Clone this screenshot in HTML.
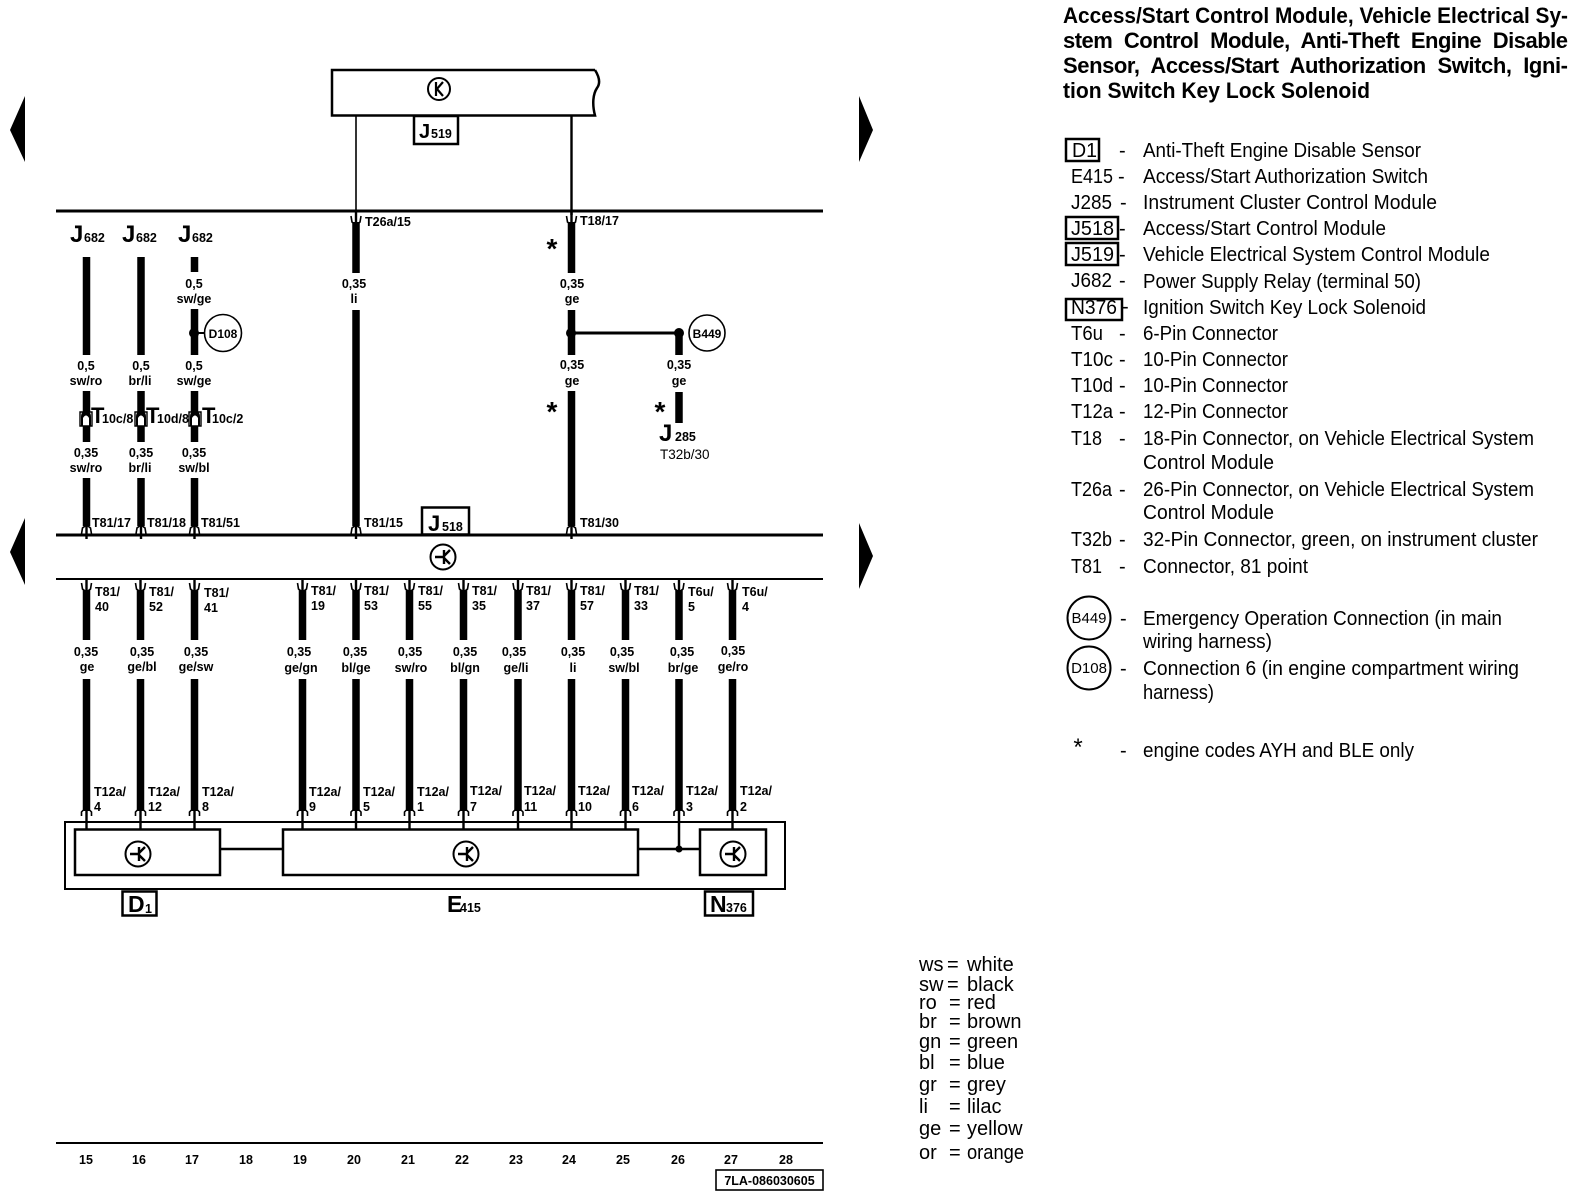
<!DOCTYPE html>
<html><head><meta charset="utf-8"><style>
html,body{margin:0;padding:0;background:#fff}
svg{display:block}
text{font-family:"Liberation Sans",sans-serif;fill:#000}
.b{font-weight:bold;font-size:12.5px}
.c{text-anchor:middle}
.J{font-weight:bold;font-size:26px}
.s{font-weight:bold;font-size:12.5px}
.L{font-size:20px}
.H{font-size:22px;font-weight:bold}
.st{font-size:28px;font-weight:bold}
.n{font-size:12px}
</style></head><body>
<svg width="1584" height="1200" viewBox="0 0 1584 1200" xmlns="http://www.w3.org/2000/svg">
<defs>
<g id="k"><circle r="12.5" fill="#fff" stroke="#000" stroke-width="2"/><path d="M-8,0H1M1,-7V7M1,-1L7,-7M1,1L7,7" fill="none" stroke="#000" stroke-width="2.4"/></g>
<g id="k2"><circle r="11" fill="#fff" stroke="#000" stroke-width="2"/><path d="M-3,-7V7M-3,1L4,-7M-2,0L4,7" fill="none" stroke="#000" stroke-width="2.2"/></g>
<g id="d"><path d="M-5,-5L-4,1L0,4L4,1L5,-5" fill="none" stroke="#000" stroke-width="1.6"/><path d="M0,-10V8" stroke="#000" stroke-width="2.4"/></g>
<g id="u"><path d="M-5,5L-4,-1L0,-4L4,-1L5,5" fill="#000" fill-opacity="0" stroke="#000" stroke-width="1.6"/><path d="M0,-6V10" stroke="#000" stroke-width="2.4"/></g>
<g id="cn"><path d="M-6,-2V12H6V-2Z" fill="#fff" stroke="#000" stroke-width="1.4"/><path d="M-5,12V3Q-5,-3 0,-3Q5,-3 5,3V12H3V4Q0,-1 -3,4V12Z" fill="#000"/></g>
</defs>

<!-- arrows -->
<path d="M25,96V162L10,130Z M25,518V585L10,552Z M859,96V162L873,130Z M859,523V589L873,556Z" fill="#000"/>

<!-- bars -->
<path d="M56,211H823M56,535H823" stroke="#000" stroke-width="3"/>
<path d="M56,579H823" stroke="#000" stroke-width="2"/>
<path d="M56,1143H823" stroke="#000" stroke-width="2"/>

<!-- J519 -->
<path d="M595,70H332V115.5H595C592,104 593,94 597,88C600,84 600,78 595,70" fill="#fff" stroke="#000" stroke-width="2.5"/>
<use href="#k2" x="439" y="89"/>
<path d="M356,115V215" stroke="#000" stroke-width="1.6"/>
<path d="M571.5,115V215" stroke="#000" stroke-width="2.4"/>
<rect x="414" y="116" width="44" height="28" fill="#fff" stroke="#000" stroke-width="2.5"/>
<text x="419" y="138" style="font-size:20px;font-weight:bold">J</text><text class="s" x="431" y="138">519</text>

<!-- top wires -->
<path fill="none" stroke="#000" stroke-width="7.5" d="
M86.5,257V355M86.5,391V442M86.5,478V526
M141,257V355M141,391V442M141,478V526
M194.5,257V272M194.5,309V355M194.5,391V442M194.5,478V526
M356,222V273M356,310V526
M571.5,222V273M571.5,310V355M571.5,391V526
M679,333V355M679,392V423"/>
<path d="M571,333H679" stroke="#000" stroke-width="3"/>
<circle cx="571" cy="333" r="5"/><circle cx="679" cy="333" r="5"/><circle cx="194" cy="333" r="5"/>
<path d="M194,333H206" stroke="#000" stroke-width="2"/>
<circle cx="223" cy="333" r="18.5" fill="#fff" stroke="#000" stroke-width="1.6"/>
<circle cx="707" cy="333" r="18" fill="#fff" stroke="#000" stroke-width="1.6"/>
<text class="b c" x="223" y="338" style="font-size:12px">D108</text>
<text class="b c" x="707" y="338" style="font-size:12px">B449</text>

<use href="#d" x="356" y="221"/><use href="#d" x="571.5" y="221"/>
<use href="#u" x="86.5" y="529"/><use href="#u" x="141" y="529"/><use href="#u" x="194.5" y="529"/><use href="#u" x="356" y="529"/><use href="#u" x="571.5" y="529"/>
<use href="#cn" x="86" y="414"/><use href="#cn" x="141" y="414"/><use href="#cn" x="195" y="414"/>

<text class="J" x="70" y="242" style="font-size:24px">J</text><text class="s" x="84" y="242">682</text>
<text class="J" x="122" y="242" style="font-size:24px">J</text><text class="s" x="136" y="242">682</text>
<text class="J" x="178" y="242" style="font-size:24px">J</text><text class="s" x="192" y="242">682</text>

<text class="b c" x="194" y="288">0,5</text><text class="b c" x="194" y="303">sw/ge</text>
<text class="b c" x="86" y="370">0,5</text><text class="b c" x="86" y="385">sw/ro</text>
<text class="b c" x="141" y="370">0,5</text><text class="b c" x="140" y="385">br/li</text>
<text class="b c" x="194" y="370">0,5</text><text class="b c" x="194" y="385">sw/ge</text>
<text class="b c" x="86" y="457">0,35</text><text class="b c" x="86" y="472">sw/ro</text>
<text class="b c" x="141" y="457">0,35</text><text class="b c" x="140" y="472">br/li</text>
<text class="b c" x="194" y="457">0,35</text><text class="b c" x="194" y="472">sw/bl</text>
<text class="b c" x="354" y="288">0,35</text><text class="b c" x="354" y="303">li</text>
<text class="b c" x="572" y="288">0,35</text><text class="b c" x="572" y="303">ge</text>
<text class="b c" x="572" y="369">0,35</text><text class="b c" x="572" y="385">ge</text>
<text class="b c" x="679" y="369">0,35</text><text class="b c" x="679" y="385">ge</text>

<text x="91" y="423" style="font-size:22px;font-weight:bold">T</text><text class="b" x="102" y="423">10c/8</text>
<text x="146" y="423" style="font-size:22px;font-weight:bold">T</text><text class="b" x="157" y="423">10d/8</text>
<text x="202" y="423" style="font-size:22px;font-weight:bold">T</text><text class="b" x="212" y="423">10c/2</text>

<text class="st c" x="552" y="258">*</text><text class="st c" x="552" y="421">*</text><text class="st c" x="660" y="421">*</text>
<text class="J" x="659" y="441" style="font-size:24px">J</text><text class="s" x="675" y="441">285</text>
<text class="b" x="660" y="459" style="font-weight:normal;font-size:13.5px">T32b/30</text>

<text class="b" x="365" y="226">T26a/15</text>
<text class="b" x="580" y="225">T18/17</text>
<text class="b" x="92" y="527">T81/17</text>
<text class="b" x="147" y="527">T81/18</text>
<text class="b" x="201" y="527">T81/51</text>
<text class="b" x="364" y="527">T81/15</text>
<text class="b" x="580" y="527">T81/30</text>

<!-- J518 -->
<rect x="422" y="507.5" width="47" height="27" fill="#fff" stroke="#000" stroke-width="2.5"/>
<text x="428" y="531" style="font-size:22px;font-weight:bold">J</text><text class="s" x="442" y="531">518</text>
<use href="#k" x="443" y="557"/>

<!-- bottom wires -->
<path fill="none" stroke="#000" stroke-width="7.5" d="
M86.5,590V640M86.5,679V811
M140.5,590V640M140.5,679V811
M194.5,590V640M194.5,679V811
M302.5,590V640M302.5,679V811
M356,590V640M356,679V811
M409.5,590V640M409.5,679V811
M463.5,590V640M463.5,679V811
M518,590V640M518,679V811
M571.5,590V640M571.5,679V811
M625.5,590V640M625.5,679V811
M679,590V640M679,679V811
M732.5,590V640M732.5,679V811"/>
<use href="#d" x="86.5" y="588"/><use href="#d" x="140.5" y="588"/><use href="#d" x="194.5" y="588"/><use href="#d" x="302.5" y="588"/><use href="#d" x="356" y="588"/><use href="#d" x="409.5" y="588"/><use href="#d" x="463.5" y="588"/><use href="#d" x="518" y="588"/><use href="#d" x="571.5" y="588"/><use href="#d" x="625.5" y="588"/><use href="#d" x="679" y="588"/><use href="#d" x="732.5" y="588"/>

<g class="b">
<text class="b" x="95" y="596">T81/</text><text class="b" x="95" y="611">40</text>
<text class="b" x="149" y="596">T81/</text><text class="b" x="149" y="611">52</text>
<text class="b" x="204" y="597">T81/</text><text class="b" x="204" y="612">41</text>
<text class="b" x="311" y="595">T81/</text><text class="b" x="311" y="610">19</text>
<text class="b" x="364" y="595">T81/</text><text class="b" x="364" y="610">53</text>
<text class="b" x="418" y="595">T81/</text><text class="b" x="418" y="610">55</text>
<text class="b" x="472" y="595">T81/</text><text class="b" x="472" y="610">35</text>
<text class="b" x="526" y="595">T81/</text><text class="b" x="526" y="610">37</text>
<text class="b" x="580" y="595">T81/</text><text class="b" x="580" y="610">57</text>
<text class="b" x="634" y="595">T81/</text><text class="b" x="634" y="610">33</text>
<text class="b" x="688" y="596">T6u/</text><text class="b" x="688" y="611">5</text>
<text class="b" x="742" y="596">T6u/</text><text class="b" x="742" y="611">4</text>
</g>

<text class="b c" x="86" y="656">0,35</text><text class="b c" x="87" y="671">ge</text>
<text class="b c" x="142" y="656">0,35</text><text class="b c" x="142" y="671">ge/bl</text>
<text class="b c" x="196" y="656">0,35</text><text class="b c" x="196" y="671">ge/sw</text>
<text class="b c" x="299" y="656">0,35</text><text class="b c" x="301" y="672">ge/gn</text>
<text class="b c" x="355" y="656">0,35</text><text class="b c" x="356" y="672">bl/ge</text>
<text class="b c" x="410" y="656">0,35</text><text class="b c" x="411" y="672">sw/ro</text>
<text class="b c" x="465" y="656">0,35</text><text class="b c" x="465" y="672">bl/gn</text>
<text class="b c" x="514" y="656">0,35</text><text class="b c" x="516" y="672">ge/li</text>
<text class="b c" x="573" y="656">0,35</text><text class="b c" x="573" y="672">li</text>
<text class="b c" x="622" y="656">0,35</text><text class="b c" x="624" y="672">sw/bl</text>
<text class="b c" x="682" y="656">0,35</text><text class="b c" x="683" y="672">br/ge</text>
<text class="b c" x="733" y="655">0,35</text><text class="b c" x="733" y="671">ge/ro</text>

<g>
<text class="b" x="94" y="796">T12a/</text><text class="b" x="94" y="811">4</text>
<text class="b" x="148" y="796">T12a/</text><text class="b" x="148" y="811">12</text>
<text class="b" x="202" y="796">T12a/</text><text class="b" x="202" y="811">8</text>
<text class="b" x="309" y="796">T12a/</text><text class="b" x="309" y="811">9</text>
<text class="b" x="363" y="796">T12a/</text><text class="b" x="363" y="811">5</text>
<text class="b" x="417" y="796">T12a/</text><text class="b" x="417" y="811">1</text>
<text class="b" x="470" y="795">T12a/</text><text class="b" x="470" y="811">7</text>
<text class="b" x="524" y="795">T12a/</text><text class="b" x="524" y="811">11</text>
<text class="b" x="578" y="795">T12a/</text><text class="b" x="578" y="811">10</text>
<text class="b" x="632" y="795">T12a/</text><text class="b" x="632" y="811">6</text>
<text class="b" x="686" y="795">T12a/</text><text class="b" x="686" y="811">3</text>
<text class="b" x="740" y="795">T12a/</text><text class="b" x="740" y="811">2</text>
</g>

<!-- component boxes -->
<rect x="65" y="822" width="720" height="67" fill="#fff" stroke="#000" stroke-width="2"/>
<path d="M220,849H283M638,849H700" stroke="#000" stroke-width="2.5"/>
<rect x="75" y="829.5" width="145" height="45.5" fill="#fff" stroke="#000" stroke-width="2.5"/>
<rect x="283" y="829.5" width="355" height="45.5" fill="#fff" stroke="#000" stroke-width="2.5"/>
<rect x="700" y="829.5" width="66" height="45.5" fill="#fff" stroke="#000" stroke-width="2.5"/>
<path d="M86.5,811V829M140.5,811V829M194.5,811V829M302.5,811V829M356,811V829M409.5,811V829M463.5,811V829M518,811V829M571.5,811V829M625.5,811V829M732.5,811V829" stroke="#000" stroke-width="2.4"/>
<path d="M679,811V849" stroke="#000" stroke-width="2.5"/>
<circle cx="679" cy="849" r="3.5"/>
<path fill="none" stroke="#000" stroke-width="1.6" d="M81.5,816V812Q86.5,806 91.5,812V816M135.5,816V812Q140.5,806 145.5,812V816M189.5,816V812Q194.5,806 199.5,812V816M297.5,816V812Q302.5,806 307.5,812V816M351,816V812Q356,806 361,812V816M404.5,816V812Q409.5,806 414.5,812V816M458.5,816V812Q463.5,806 468.5,812V816M513,816V812Q518,806 523,812V816M566.5,816V812Q571.5,806 576.5,812V816M620.5,816V812Q625.5,806 630.5,812V816M674,816V812Q679,806 684,812V816M727.5,816V812Q732.5,806 737.5,812V816"/>
<use href="#k" x="138" y="854"/><use href="#k" x="466" y="854"/><use href="#k" x="733" y="854"/>

<rect x="122.5" y="891.5" width="34" height="24" fill="#fff" stroke="#000" stroke-width="2.5"/>
<text x="128" y="912" style="font-size:23px;font-weight:bold">D</text><text x="145" y="913" class="s">1</text>
<text x="447" y="912" style="font-size:23px;font-weight:bold">E</text><text x="460" y="912" class="s">415</text>
<rect x="705" y="891.5" width="48" height="24" fill="#fff" stroke="#000" stroke-width="2.5"/>
<text x="710" y="912" style="font-size:23px;font-weight:bold">N</text><text x="726" y="912" class="s">376</text>

<!-- axis -->
<g>
<text class="b c" x="86" y="1164">15</text><text class="b c" x="139" y="1164">16</text><text class="b c" x="192" y="1164">17</text><text class="b c" x="246" y="1164">18</text><text class="b c" x="300" y="1164">19</text><text class="b c" x="354" y="1164">20</text><text class="b c" x="408" y="1164">21</text><text class="b c" x="462" y="1164">22</text><text class="b c" x="516" y="1164">23</text><text class="b c" x="569" y="1164">24</text><text class="b c" x="623" y="1164">25</text><text class="b c" x="678" y="1164">26</text><text class="b c" x="731" y="1164">27</text><text class="b c" x="786" y="1164">28</text>
</g>
<rect x="716" y="1170" width="107" height="20" fill="#fff" stroke="#000" stroke-width="1.6"/>
<text class="b c" x="769.5" y="1185">7LA-086030605</text>

<!-- colour key -->
<g>
<text class="L" x="919" y="971">ws</text><text class="L" x="947" y="971">=</text><text class="L" x="967" y="971">white</text>
<text class="L" x="919" y="991">sw</text><text class="L" x="947" y="991">=</text><text class="L" x="967" y="991">black</text>
<text class="L" x="919" y="1009">ro</text><text class="L" x="949" y="1009">=</text><text class="L" x="967" y="1009">red</text>
<text class="L" x="919" y="1028">br</text><text class="L" x="949" y="1028">=</text><text class="L" x="967" y="1028">brown</text>
<text class="L" x="919" y="1048">gn</text><text class="L" x="949" y="1048">=</text><text class="L" x="967" y="1048">green</text>
<text class="L" x="919" y="1069">bl</text><text class="L" x="949" y="1069">=</text><text class="L" x="967" y="1069">blue</text>
<text class="L" x="919" y="1091">gr</text><text class="L" x="949" y="1091">=</text><text class="L" x="967" y="1091">grey</text>
<text class="L" x="919" y="1113">li</text><text class="L" x="949" y="1113">=</text><text class="L" x="967" y="1113">lilac</text>
<text class="L" x="919" y="1135">ge</text><text class="L" x="949" y="1135">=</text><text class="L" x="967" y="1135">yellow</text>
<text class="L" x="919" y="1159">or</text><text class="L" x="949" y="1159">=</text><text class="L" x="967" y="1159" textLength="57" lengthAdjust="spacingAndGlyphs">orange</text>
</g>

<!-- title -->
<text class="H" x="1063" y="23" textLength="505" lengthAdjust="spacingAndGlyphs">Access/Start Control Module, Vehicle Electrical Sy-</text>
<text class="H" x="1063" y="48" textLength="505" lengthAdjust="spacing" word-spacing="6">stem Control Module, Anti-Theft Engine Disable</text>
<text class="H" x="1063" y="73" textLength="505" lengthAdjust="spacing" word-spacing="6">Sensor, Access/Start Authorization Switch, Igni-</text>
<text class="H" x="1063" y="98" textLength="307" lengthAdjust="spacingAndGlyphs">tion Switch Key Lock Solenoid</text>

<!-- legend -->
<g fill="none" stroke="#000" stroke-width="2.5">
<rect x="1066" y="139" width="33" height="22"/>
<rect x="1066" y="217" width="52" height="22"/>
<rect x="1066" y="243" width="52" height="22"/>
<rect x="1066" y="299" width="56" height="21"/>
</g>
<text class="L" x="1072" y="157" textLength="25" lengthAdjust="spacingAndGlyphs">D1</text>
<text class="L" x="1071" y="183" textLength="42" lengthAdjust="spacingAndGlyphs">E415</text>
<text class="L" x="1071" y="209" textLength="41" lengthAdjust="spacingAndGlyphs">J285</text>
<text class="L" x="1071" y="235" textLength="43" lengthAdjust="spacingAndGlyphs">J518</text>
<text class="L" x="1071" y="261" textLength="43" lengthAdjust="spacingAndGlyphs">J519</text>
<text class="L" x="1071" y="287" textLength="41" lengthAdjust="spacingAndGlyphs">J682</text>
<text class="L" x="1071" y="314" textLength="46" lengthAdjust="spacingAndGlyphs">N376</text>
<text class="L" x="1071" y="340" textLength="32" lengthAdjust="spacingAndGlyphs">T6u</text>
<text class="L" x="1071" y="366" textLength="42" lengthAdjust="spacingAndGlyphs">T10c</text>
<text class="L" x="1071" y="392" textLength="42" lengthAdjust="spacingAndGlyphs">T10d</text>
<text class="L" x="1071" y="418" textLength="42" lengthAdjust="spacingAndGlyphs">T12a</text>
<text class="L" x="1071" y="445" textLength="31" lengthAdjust="spacingAndGlyphs">T18</text>
<text class="L" x="1071" y="496" textLength="41" lengthAdjust="spacingAndGlyphs">T26a</text>
<text class="L" x="1071" y="546" textLength="41" lengthAdjust="spacingAndGlyphs">T32b</text>
<text class="L" x="1071" y="573" textLength="31" lengthAdjust="spacingAndGlyphs">T81</text>
<text class="L" x="1119" y="157">-</text><text class="L" x="1118" y="183">-</text><text class="L" x="1120" y="209">-</text><text class="L" x="1119" y="235">-</text><text class="L" x="1119" y="261">-</text><text class="L" x="1119" y="287">-</text><text class="L" x="1122" y="313">-</text><text class="L" x="1119" y="340">-</text><text class="L" x="1119" y="366">-</text><text class="L" x="1119" y="392">-</text><text class="L" x="1119" y="418">-</text><text class="L" x="1119" y="445">-</text><text class="L" x="1119" y="496">-</text><text class="L" x="1119" y="546">-</text><text class="L" x="1119" y="573">-</text><text class="L" x="1120" y="625">-</text><text class="L" x="1120" y="675">-</text><text class="L" x="1120" y="757">-</text>

<text class="L" x="1143" y="157" textLength="278" lengthAdjust="spacingAndGlyphs">Anti-Theft Engine Disable Sensor</text>
<text class="L" x="1143" y="183" textLength="285" lengthAdjust="spacingAndGlyphs">Access/Start Authorization Switch</text>
<text class="L" x="1143" y="209" textLength="294" lengthAdjust="spacingAndGlyphs">Instrument Cluster Control Module</text>
<text class="L" x="1143" y="235" textLength="243" lengthAdjust="spacingAndGlyphs">Access/Start Control Module</text>
<text class="L" x="1143" y="261" textLength="347" lengthAdjust="spacingAndGlyphs">Vehicle Electrical System Control Module</text>
<text class="L" x="1143" y="288" textLength="278" lengthAdjust="spacingAndGlyphs">Power Supply Relay (terminal 50)</text>
<text class="L" x="1143" y="314" textLength="283" lengthAdjust="spacingAndGlyphs">Ignition Switch Key Lock Solenoid</text>
<text class="L" x="1143" y="340" textLength="135" lengthAdjust="spacingAndGlyphs">6-Pin Connector</text>
<text class="L" x="1143" y="366" textLength="145" lengthAdjust="spacingAndGlyphs">10-Pin Connector</text>
<text class="L" x="1143" y="392" textLength="145" lengthAdjust="spacingAndGlyphs">10-Pin Connector</text>
<text class="L" x="1143" y="418" textLength="145" lengthAdjust="spacingAndGlyphs">12-Pin Connector</text>
<text class="L" x="1143" y="445" textLength="391" lengthAdjust="spacingAndGlyphs">18-Pin Connector, on Vehicle Electrical System</text>
<text class="L" x="1143" y="469" textLength="131" lengthAdjust="spacingAndGlyphs">Control Module</text>
<text class="L" x="1143" y="496" textLength="391" lengthAdjust="spacingAndGlyphs">26-Pin Connector, on Vehicle Electrical System</text>
<text class="L" x="1143" y="519" textLength="131" lengthAdjust="spacingAndGlyphs">Control Module</text>
<text class="L" x="1143" y="546" textLength="395" lengthAdjust="spacingAndGlyphs">32-Pin Connector, green, on instrument cluster</text>
<text class="L" x="1143" y="573" textLength="165" lengthAdjust="spacingAndGlyphs">Connector, 81 point</text>
<circle cx="1089" cy="618" r="21.5" fill="none" stroke="#000" stroke-width="2"/>
<circle cx="1089" cy="668" r="21.5" fill="none" stroke="#000" stroke-width="2"/>
<text class="c" x="1089" y="623" style="font-size:15px">B449</text>
<text class="c" x="1089" y="673" style="font-size:15px">D108</text>
<text class="L" x="1143" y="625" textLength="359" lengthAdjust="spacingAndGlyphs">Emergency Operation Connection (in main</text>
<text class="L" x="1143" y="648" textLength="129" lengthAdjust="spacingAndGlyphs">wiring harness)</text>
<text class="L" x="1143" y="675" textLength="376" lengthAdjust="spacingAndGlyphs">Connection 6 (in engine compartment wiring</text>
<text class="L" x="1143" y="699" textLength="71" lengthAdjust="spacingAndGlyphs">harness)</text>
<text class="L c" x="1078" y="755" style="font-size:24px">*</text>
<text class="L" x="1143" y="757" textLength="271" lengthAdjust="spacingAndGlyphs">engine codes AYH and BLE only</text>
</svg>
</body></html>
